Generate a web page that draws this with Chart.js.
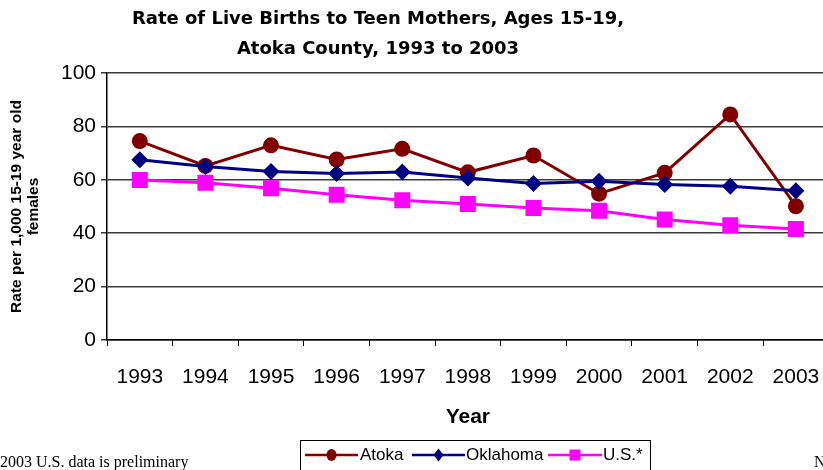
<!DOCTYPE html>
<html>
<head>
<meta charset="utf-8">
<script src="https://cdn.jsdelivr.net/npm/chart.js@4.4.1/dist/chart.umd.min.js"></script>
<style>
  html, body { margin: 0; padding: 0; background: #fff; overflow: hidden; }
  #wrap { position: relative; width: 840px; height: 470px; }
  #titulo {
    position: absolute; left: 78px; top: 3px; width: 600px;
    text-align: center; font-family: "DejaVu Sans", sans-serif; font-weight: bold;
    font-size: 18px; line-height: 30px; color: #000; white-space: nowrap;
  }
  .nota { position: absolute; font-family: "Liberation Serif", serif; font-size: 16px; color: #000; white-space: nowrap; }
</style>
</head>
<body>
<div id="wrap">
  <canvas id="grafico" width="840" height="470"></canvas>
  <div id="titulo">Rate of Live Births to Teen Mothers, Ages 15-19,<br>Atoka County, 1993 to 2003</div>
  <div class="nota" style="left:0px; top:453px;">2003 U.S. data is preliminary</div>
  <div class="nota" style="left:814px; top:453px;">N</div>
</div>
<script>
// dados
var anos = ['1993', '1994', '1995', '1996', '1997', '1998', '1999', '2000', '2001', '2002', '2003'];
var atoka = [74.5, 65.2, 72.9, 67.6, 71.6, 62.8, 69.1, 54.8, 62.6, 84.5, 50.1];
var oklahoma = [67.5, 65.0, 63.1, 62.4, 62.9, 60.7, 58.6, 59.5, 58.2, 57.6, 55.9];
var usa = [59.9, 58.9, 56.8, 54.4, 52.3, 50.9, 49.4, 48.4, 45.1, 43.0, 41.6];
var ticksY = [0, 20, 40, 60, 80, 100];

var series = [
  { nome: 'Atoka', dados: atoka, cor: '#800000', ponto: 'circle', raio: 8, ordem: 2 },
  { nome: 'Oklahoma', dados: oklahoma, cor: '#000080', ponto: 'rectRot', raio: 8.5, ordem: 0 },
  { nome: 'U.S.*', dados: usa, cor: '#FF00FF', ponto: 'rect', raio: 11.3, ordem: 1 }
];

// legenda com caixa, desenhada por baixo do eixo
const legendaCaixa = {
  id: 'legendaCaixa',
  afterDraw(chart) {
    const ctx = chart.ctx;
    ctx.save();
    ctx.strokeStyle = '#000';
    ctx.lineWidth = 1;
    ctx.strokeRect(300.5, 440.5, 350, 40);
    var itens = [
      { x0: 305, x1: 358, tx: 360 },
      { x0: 412, x1: 465, tx: 466 },
      { x0: 548, x1: 602, tx: 603 }
    ];
    var y = 455;
    ctx.font = '17px "Liberation Sans Narrow", "Liberation Sans", Arial, sans-serif';
    ctx.textBaseline = 'middle';
    ctx.textAlign = 'left';
    for (var i = 0; i < series.length; i++) {
      var s = series[i];
      var it = itens[i];
      var cx = (it.x0 + it.x1) / 2;
      ctx.strokeStyle = s.cor;
      ctx.fillStyle = s.cor;
      ctx.lineWidth = 2.5;
      ctx.beginPath();
      ctx.moveTo(it.x0, y);
      ctx.lineTo(it.x1, y);
      ctx.stroke();
      ctx.beginPath();
      if (s.ponto === 'circle') {
        ctx.ellipse(cx, y, 5, 6, 0, 0, Math.PI * 2);
      } else if (s.ponto === 'rectRot') {
        ctx.moveTo(cx, y - 6.5);
        ctx.lineTo(cx + 5, y);
        ctx.lineTo(cx, y + 6.5);
        ctx.lineTo(cx - 5, y);
        ctx.closePath();
      } else {
        ctx.rect(cx - 5.5, y - 5.5, 11, 11);
      }
      ctx.fill();
      ctx.fillStyle = '#000';
      ctx.fillText(s.nome, it.tx, y);
    }
    ctx.restore();
  }
};

const ctx = document.getElementById('grafico');

new Chart(ctx, {
  type: 'line',
  data: {
    labels: anos,
    datasets: series.map(function (s) {
      return {
        label: s.nome,
        data: s.dados,
        borderColor: s.cor,
        backgroundColor: s.cor,
        borderWidth: 3,
        pointStyle: s.ponto,
        pointRadius: s.raio,
        pointHoverRadius: s.raio,
        pointBorderWidth: 0,
        pointBackgroundColor: s.cor,
        tension: 0,
        fill: false,
        order: s.ordem
      };
    })
  },
  options: {
    responsive: false,
    animation: false,
    devicePixelRatio: 1,
    layout: { padding: { left: 0, top: 73, right: 11, bottom: 0 } },
    plugins: {
      legend: { display: false },
      tooltip: { enabled: false },
      title: { display: false }
    },
    scales: {
      x: {
        offset: true,
        grid: { offset: true, drawOnChartArea: false, drawTicks: true, tickLength: 6, color: '#000', lineWidth: 1 },
        border: { color: '#000', width: 1.5 },
        ticks: {
          color: '#000',
          padding: 19,
          maxRotation: 0,
          autoSkip: false,
          font: { family: '"Liberation Sans", Arial, sans-serif', size: 21 }
        },
        title: {
          display: true,
          text: 'Year',
          color: '#000',
          padding: { top: 0, bottom: 40 },
          font: { family: '"Liberation Sans", Arial, sans-serif', size: 21, weight: 'bold' }
        },
        afterFit: function (scale) { scale.height = 130; }
      },
      y: {
        min: 0,
        max: 100,
        afterBuildTicks: function (scale) {
          scale.ticks = ticksY.map(function (v) { return { value: v }; });
        },
        grid: { color: '#3a3a3a', lineWidth: 1.5, drawTicks: true, tickLength: 6 },
        border: { color: '#000', width: 1.5 },
        ticks: {
          color: '#000',
          padding: 5,
          font: { family: '"Liberation Sans", Arial, sans-serif', size: 21 }
        },
        title: {
          display: true,
          text: ['Rate per 1,000 15-19 year old', 'females'],
          color: '#000',
          padding: { top: 8, bottom: 0 },
          font: { family: '"Liberation Sans", Arial, sans-serif', size: 15.5, weight: 'bold', lineHeight: 1.12 }
        },
        afterFit: function (scale) { scale.width = 107; }
      }
    }
  },
  plugins: [legendaCaixa]
});
</script>
</body>
</html>
